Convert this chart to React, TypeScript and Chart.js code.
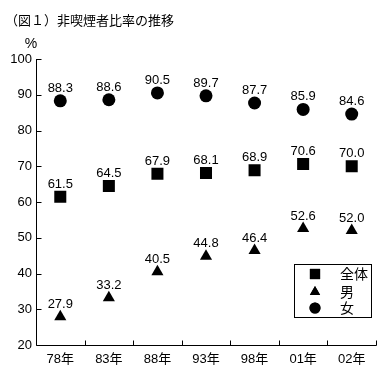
import React, { useEffect, useRef } from "react";
import { Chart, registerables } from "chart.js";
import { drawPoint } from "chart.js/helpers";

Chart.register(...registerables);

const titleText = "（図１）非喫煙者比率の推移";
const unitText = "%";
const categories = ["78年", "83年", "88年", "93年", "98年", "01年", "02年"];
const seriesNames = ["全体", "男", "女"];
const totalValues = [61.5, 64.5, 67.9, 68.1, 68.9, 70.6, 70.0];
const maleValues = [27.9, 33.2, 40.5, 44.8, 46.4, 52.6, 52.0];
const femaleValues = [88.3, 88.6, 90.5, 89.7, 87.7, 85.9, 84.6];
const yMin = 20;
const yMax = 100;
const yStep = 10;

const LATIN = "'Liberation Sans', Arial, 'Noto Sans CJK JP', sans-serif";
const CJK = "'Noto Sans CJK JP', 'Liberation Sans', sans-serif";

const styles = [
  { pointStyle: "rect", radius: 8.5 },
  { pointStyle: "triangle", radius: 7 },
  { pointStyle: "circle", radius: 6.5 },
];

const decorPlugin = {
  id: "decor",
  afterDatasetsDraw(chart: any) {
    const ctx = chart.ctx;
    ctx.save();
    ctx.fillStyle = "#000";
    ctx.font = `13px ${LATIN}`;
    ctx.textAlign = "center";
    ctx.textBaseline = "bottom";
    chart.data.datasets.forEach((ds: any, di: number) => {
      const meta = chart.getDatasetMeta(di);
      meta.data.forEach((pt: any, i: number) => {
        const v = ds.data[i];
        ctx.fillText(Number(v).toFixed(1), pt.x, pt.y - 6);
      });
    });
    ctx.restore();
  },
  afterDraw(chart: any) {
    const ctx = chart.ctx;
    const area = chart.chartArea;
    const xs = chart.scales.x;
    const ys = chart.scales.y;
    ctx.save();
    ctx.strokeStyle = "#000";
    ctx.lineWidth = 1;
    const L = Math.round(area.left) + 0.5;
    const B = Math.round(area.bottom) + 0.5;
    const R = Math.round(area.right) + 0.5;
    ctx.beginPath();
    ctx.moveTo(L, Math.round(area.top));
    ctx.lineTo(L, B);
    ctx.lineTo(R, B);
    // y ticks inward
    for (let v = yMin; v <= yMax; v += yStep) {
      const y = Math.round(ys.getPixelForValue(v)) + 0.5;
      ctx.moveTo(L, y);
      ctx.lineTo(L + 5, y);
    }
    // x boundary ticks inward
    const n = categories.length;
    for (let i = 1; i <= n; i++) {
      const x =
        i < n
          ? (xs.getPixelForValue(i - 1) + xs.getPixelForValue(i)) / 2
          : area.right;
      const xx = Math.round(x) + 0.5;
      ctx.moveTo(xx, B);
      ctx.lineTo(xx, B - 5);
    }
    ctx.stroke();

    // title
    ctx.fillStyle = "#000";
    ctx.textBaseline = "middle";
    ctx.textAlign = "left";
    ctx.font = `13px ${CJK}`;
    ctx.fillText(titleText, 5, 20);
    ctx.font = `14px ${LATIN}`;
    ctx.textAlign = "center";
    ctx.fillText(unitText, 31, 44);

    // legend
    const lx = 294.5, ly = 264.5, lw = 77, lh = 53;
    ctx.fillStyle = "#fff";
    ctx.fillRect(lx, ly, lw, lh);
    ctx.strokeRect(lx, ly, lw, lh);
    const rows = [274, 292, 308];
    seriesNames.forEach((name, i) => {
      ctx.fillStyle = "#000";
      ctx.strokeStyle = "#000";
      drawPoint(ctx, { pointStyle: styles[i].pointStyle as any, radius: styles[i].radius * 0.85, rotation: 0, borderWidth: 0 } as any, 315, rows[i]);
      ctx.fill();
      ctx.font = `14px ${CJK}`;
      ctx.textAlign = "left";
      ctx.textBaseline = "middle";
      ctx.fillText(name, 340, rows[i]);
    });
    ctx.restore();
  },
};

export default function App() {
  const ref = useRef<HTMLCanvasElement | null>(null);
  useEffect(() => {
    document.body.style.margin = "0";
    const canvas = ref.current!;
    const seriesData = [totalValues, maleValues, femaleValues];
    const chart = new Chart(canvas, {
      type: "line",
      data: {
        labels: categories,
        datasets: seriesData.map((d, i) => ({
          label: seriesNames[i],
          data: d,
          showLine: false,
          pointStyle: styles[i].pointStyle as any,
          pointRadius: styles[i].radius,
          pointHoverRadius: styles[i].radius,
          backgroundColor: "#000",
          borderColor: "#000",
          pointBorderWidth: 0,
        })),
      },
      options: {
        responsive: false,
        animation: false,
        events: [],
        layout: { padding: { top: 59, right: 9, left: 0, bottom: 0 } },
        plugins: {
          legend: { display: false },
          title: { display: false },
          tooltip: { enabled: false },
        },
        scales: {
          x: {
            type: "category",
            offset: true,
            grid: { display: false, drawTicks: false },
            border: { display: false },
            ticks: {
              color: "#000",
              font: { family: LATIN, size: 13 },
              padding: 7,
              maxRotation: 0,
              autoSkip: false,
            },
            afterFit(scale: any) {
              scale.height = 21;
            },
          },
          y: {
            min: yMin,
            max: yMax,
            grid: { display: false, drawTicks: false },
            border: { display: false },
            ticks: {
              stepSize: yStep,
              color: "#000",
              font: { family: LATIN, size: 13 },
              padding: 4,
            },
            afterFit(scale: any) {
              scale.width = 36;
            },
          },
        },
      },
      plugins: [decorPlugin],
    });
    return () => chart.destroy();
  }, []);
  return <canvas ref={ref} width={385} height={366} style={{ display: "block", width: 385, height: 366 }} />;
}
